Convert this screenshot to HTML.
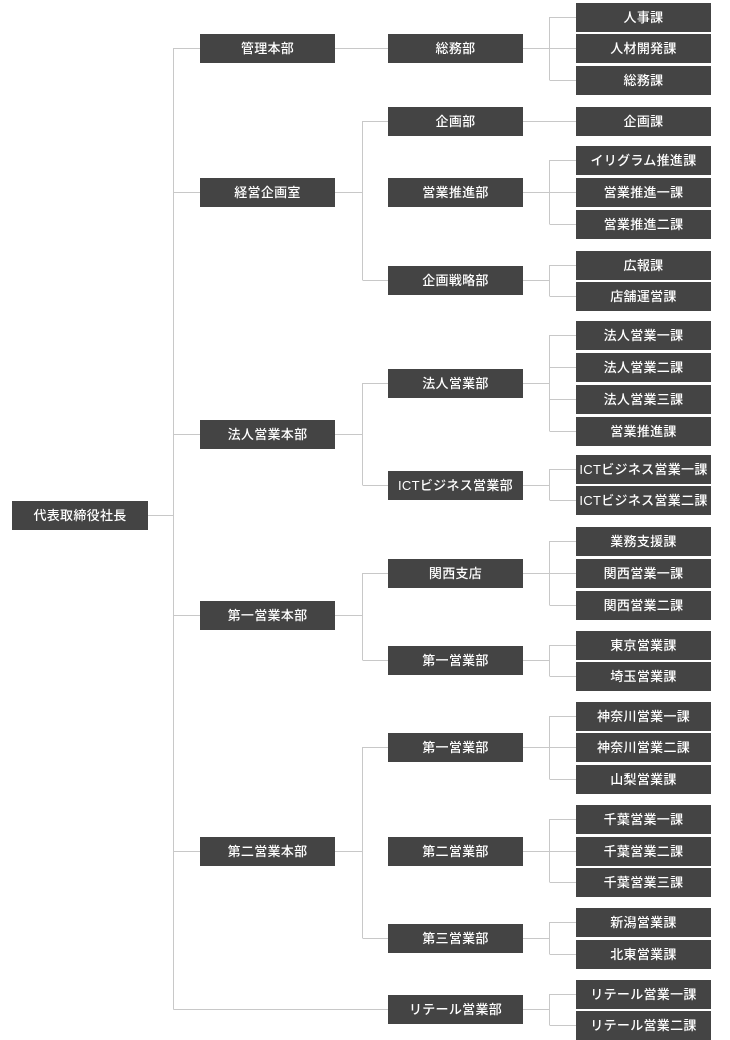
<!DOCTYPE html>
<html><head><meta charset="utf-8"><style>
body{margin:0;width:730px;height:1039px;background:#fff;position:relative;overflow:hidden;font-family:"Liberation Sans","Noto Sans CJK JP",sans-serif}
.b{position:absolute;height:29px;background:#444;color:#fff;font-size:13px;font-weight:500;line-height:29px;text-align:center;white-space:nowrap;letter-spacing:0.3px}
.c0{left:12px;width:136px}.c1{left:200px;width:135px}.c2{left:388px;width:135px}.c3{left:576px;width:135px}
svg{position:absolute;left:0;top:0}
</style></head><body>
<svg width="730" height="1039" stroke="#c8c8c8" stroke-width="1" fill="none">
<path d="M148 515.5H173.5M173.5 48V1009.5M173.5 48.5H200M173.5 192.5H200M173.5 434.5H200M173.5 615.5H200M173.5 851.5H200M173.5 1009.5H388"/>
<path d="M335 48.5H388"/>
<path d="M335 192.5H362.5M362.5 121V280M362.5 121.5H388M362.5 280.5H388"/>
<path d="M335 434.5H362.5M362.5 383V485M362.5 383.5H388M362.5 485.5H388"/>
<path d="M335 615.5H362.5M362.5 573V660M362.5 573.5H388M362.5 660.5H388"/>
<path d="M335 851.5H362.5M362.5 747V938M362.5 747.5H388M362.5 938.5H388"/>
<path d="M523 48.5H576M549.5 17V80M549.5 17.5H576M549.5 80.5H576"/>
<path d="M523 121.5H576"/>
<path d="M523 192.5H576M549.5 160V224M549.5 160.5H576M549.5 224.5H576"/>
<path d="M523 280.5H549.5M549.5 265V296M549.5 265.5H576M549.5 296.5H576"/>
<path d="M523 383.5H549.5M549.5 335V431M549.5 335.5H576M549.5 367.5H576M549.5 399.5H576M549.5 431.5H576"/>
<path d="M523 485.5H549.5M549.5 469V500M549.5 469.5H576M549.5 500.5H576"/>
<path d="M523 573.5H576M549.5 541V605M549.5 541.5H576M549.5 605.5H576"/>
<path d="M523 660.5H549.5M549.5 645V676M549.5 645.5H576M549.5 676.5H576"/>
<path d="M523 747.5H576M549.5 716V779M549.5 716.5H576M549.5 779.5H576"/>
<path d="M523 851.5H576M549.5 819V882M549.5 819.5H576M549.5 882.5H576"/>
<path d="M523 938.5H549.5M549.5 922V954M549.5 922.5H576M549.5 954.5H576"/>
<path d="M523 1009.5H549.5M549.5 994V1025M549.5 994.5H576M549.5 1025.5H576"/>
</svg>
<div class="b c0" style="top:501px">代表取締役社長</div>
<div class="b c1" style="top:34px">管理本部</div>
<div class="b c1" style="top:178px">経営企画室</div>
<div class="b c1" style="top:420px">法人営業本部</div>
<div class="b c1" style="top:601px">第一営業本部</div>
<div class="b c1" style="top:837px">第二営業本部</div>
<div class="b c2" style="top:34px">総務部</div>
<div class="b c2" style="top:107px">企画部</div>
<div class="b c2" style="top:178px">営業推進部</div>
<div class="b c2" style="top:266px">企画戦略部</div>
<div class="b c2" style="top:369px">法人営業部</div>
<div class="b c2" style="top:471px">ICTビジネス営業部</div>
<div class="b c2" style="top:559px">関西支店</div>
<div class="b c2" style="top:646px">第一営業部</div>
<div class="b c2" style="top:733px">第一営業部</div>
<div class="b c2" style="top:837px">第二営業部</div>
<div class="b c2" style="top:924px">第三営業部</div>
<div class="b c2" style="top:995px">リテール営業部</div>
<div class="b c3" style="top:3px">人事課</div>
<div class="b c3" style="top:34px">人材開発課</div>
<div class="b c3" style="top:66px">総務課</div>
<div class="b c3" style="top:107px">企画課</div>
<div class="b c3" style="top:146px">イリグラム推進課</div>
<div class="b c3" style="top:178px">営業推進一課</div>
<div class="b c3" style="top:210px">営業推進二課</div>
<div class="b c3" style="top:251px">広報課</div>
<div class="b c3" style="top:282px">店舗運営課</div>
<div class="b c3" style="top:321px">法人営業一課</div>
<div class="b c3" style="top:353px">法人営業二課</div>
<div class="b c3" style="top:385px">法人営業三課</div>
<div class="b c3" style="top:417px">営業推進課</div>
<div class="b c3" style="top:455px">ICTビジネス営業一課</div>
<div class="b c3" style="top:486px">ICTビジネス営業二課</div>
<div class="b c3" style="top:527px">業務支援課</div>
<div class="b c3" style="top:559px">関西営業一課</div>
<div class="b c3" style="top:591px">関西営業二課</div>
<div class="b c3" style="top:631px">東京営業課</div>
<div class="b c3" style="top:662px">埼玉営業課</div>
<div class="b c3" style="top:702px">神奈川営業一課</div>
<div class="b c3" style="top:733px">神奈川営業二課</div>
<div class="b c3" style="top:765px">山梨営業課</div>
<div class="b c3" style="top:805px">千葉営業一課</div>
<div class="b c3" style="top:837px">千葉営業二課</div>
<div class="b c3" style="top:868px">千葉営業三課</div>
<div class="b c3" style="top:908px">新潟営業課</div>
<div class="b c3" style="top:940px">北東営業課</div>
<div class="b c3" style="top:980px">リテール営業一課</div>
<div class="b c3" style="top:1011px">リテール営業二課</div>
</body></html>
